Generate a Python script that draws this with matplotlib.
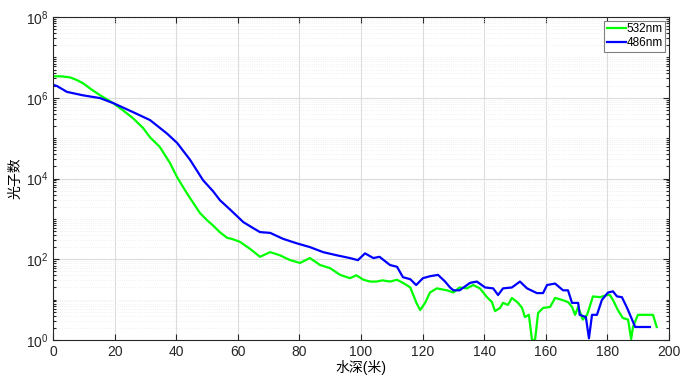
import matplotlib
matplotlib.use("Agg")
import matplotlib.pyplot as plt
from matplotlib.ticker import LogLocator, NullFormatter

plt.rcParams["font.family"] = ["Liberation Sans", "Noto Sans CJK SC", "DejaVu Sans"]

# 532nm channel: depth (m) and photon counts
depth_532 = [0, 2.5, 5.5, 7.5, 9.7, 12.5, 15.3, 19.5, 23, 26, 29.2, 31.5, 34.7, 38, 40.3,
             43.4, 45.5, 47.7, 50, 52, 54, 56.5, 58, 60.7, 62, 64, 67.2, 70.5, 73.7, 77,
             80.2, 83.4, 86.7, 90, 93.2, 96.4, 98.5, 100.8, 103, 105, 107, 109.4, 111.7,
             114, 116, 118, 119.2, 120.8, 122.4, 124.6, 127.9, 130, 132, 134.4, 136.4,
             138.6, 140.9, 142.5, 143.5, 145.1, 146.1, 147.7, 149, 151, 152.3, 153.2,
             154.5, 155.5, 156.5, 157.5, 159.1, 161.4, 163, 165.3, 167.2, 168.5, 169.5,
             170.5, 172, 173.4, 175.3, 177.6, 179.9, 180.8, 181.8, 183.4, 185, 186.7,
             187.7, 188.3, 189.9, 194.8, 196]
counts_532 = [3.4e6, 3.4e6, 3.2e6, 2.8e6, 2.3e6, 1.6e6, 1.15e6, 7.4e5, 4.7e5, 3.1e5, 1.8e5,
              1.05e5, 6.0e4, 2.4e4, 1.07e4, 4.4e3, 2.5e3, 1.4e3, 930, 680, 480, 340, 320,
              270, 230, 180, 115, 150, 125, 95, 81, 107, 72, 60, 41, 34, 40, 31, 28, 28,
              30, 28, 31, 25, 20, 8.3, 5.5, 8.3, 15, 19, 17, 15, 20, 19, 23, 19, 11.5, 8.7,
              5.2, 6.2, 8.3, 7.4, 11, 8.3, 6.2, 3.7, 4.2, 1, 1, 4.7, 6.2, 6.6, 11, 9.8,
              8.7, 6.6, 4.2, 6.6, 3.2, 4.2, 12, 11.5, 13, 13, 9.8, 5.5, 3.5, 3.2, 1.05,
              2.1, 4.2, 4.2, 2.1]

# 486nm channel
depth_486 = [0, 1.3, 4.5, 9.7, 15.3, 19.5, 26, 31.5, 37, 40.3, 44.5, 48.7, 52, 54.2, 57.5,
             61.8, 65, 67.2, 70.5, 74.7, 79, 83.4, 87.7, 92.2, 96.4, 99, 101.3, 104, 106,
             109.4, 111.7, 113.6, 116, 117.9, 120.1, 122.4, 125, 127.3, 128.9, 130, 132,
             135.4, 137.6, 140.3, 142.9, 144.5, 146.1, 149, 151.6, 153.9, 157.1, 159.1,
             160.4, 163, 165.6, 167.2, 168.5, 170.5, 171, 173, 174, 175, 176.6, 178.2,
             180.2, 181.8, 183.1, 184.7, 186.4, 188, 189, 193.8]
counts_486 = [2.1e6, 1.95e6, 1.4e6, 1.15e6, 9.8e5, 7.4e5, 4.4e5, 2.8e5, 1.3e5, 7.6e4, 2.9e4,
              9.1e3, 4.8e3, 2.9e3, 1.7e3, 830, 590, 470, 450, 320, 250, 200, 150, 125, 107,
              95, 140, 107, 115, 72, 65, 36, 32, 23, 34, 38, 41, 28, 20, 17, 17, 26, 28, 20,
              19, 13, 19, 20, 28, 19, 14.5, 14.5, 23, 25, 17, 17, 8.3, 8.3, 4.2, 3.7, 1.1,
              4.2, 4.2, 9.8, 15, 16, 12, 11.5, 6.2, 3.2, 2.1, 2.1]

x_ticks = [0, 20, 40, 60, 80, 100, 120, 140, 160, 180, 200]
y_ticks = [1e0, 1e2, 1e4, 1e6, 1e8]

fig = plt.figure(figsize=(6.92, 3.84), dpi=100)
ax = fig.add_axes([0.0766, 0.1146, 0.8902, 0.8411])

ax.plot(depth_532, counts_532, color="#00ff00", lw=1.6, label="532nm")
ax.plot(depth_486, counts_486, color="#0000ff", lw=1.6, label="486nm")

ax.set_yscale("log")
ax.set_xlim(0, 200)
ax.set_ylim(1, 1e8)
ax.set_xticks(x_ticks)
ax.set_yticks(y_ticks)
ax.yaxis.set_minor_locator(LogLocator(base=10, subs=range(1, 10), numticks=20))
ax.yaxis.set_minor_formatter(NullFormatter())

ax.grid(True, which="major", color="#dcdcdc", lw=0.8)
ax.grid(True, which="minor", axis="y", color="#ececec", lw=0.6, ls=":")
ax.set_axisbelow(True)

ax.tick_params(which="both", direction="in", top=True, right=True, labelsize=10,
               colors="#262626", width=0.8)
ax.tick_params(which="major", length=4)
ax.tick_params(which="minor", length=2)
for s in ax.spines.values():
    s.set_color("#262626")
    s.set_linewidth(0.8)

ax.set_xlabel("水深(米)", fontsize=10, labelpad=1)
ax.set_ylabel("光子数", fontsize=10, labelpad=2)

leg = ax.legend(loc="upper right", fontsize=8.5, handlelength=1.6, handletextpad=0.1,
                borderpad=0.2, labelspacing=0.2, borderaxespad=0.3, fancybox=False,
                framealpha=1)
leg.get_frame().set_edgecolor("#808080")
leg.get_frame().set_linewidth(0.8)

fig.savefig("out.png", dpi=100)
